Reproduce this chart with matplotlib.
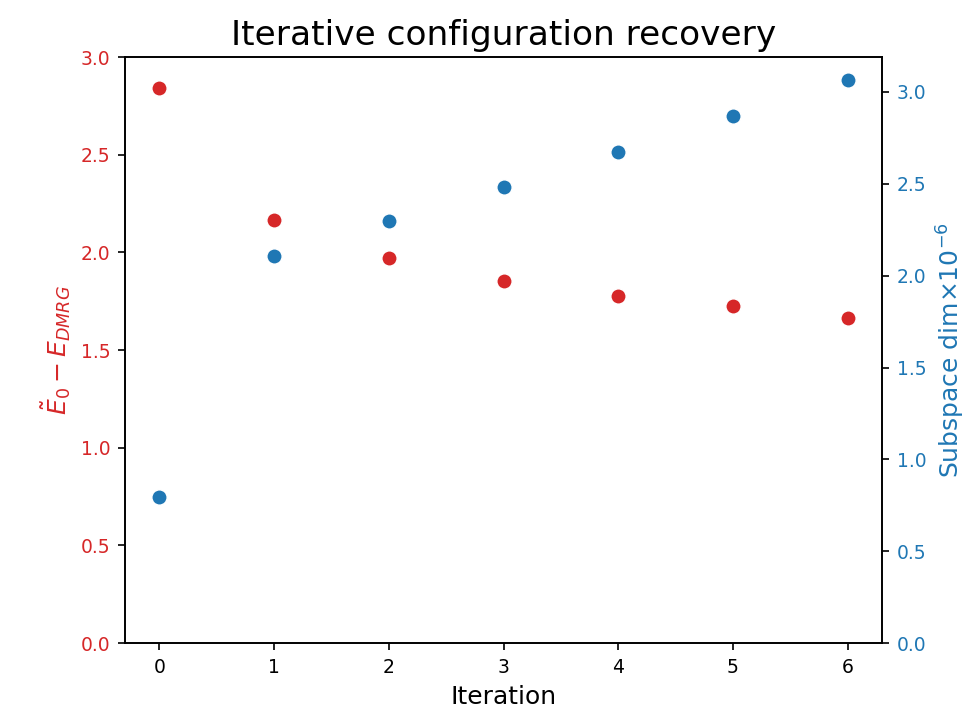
import matplotlib
matplotlib.use("Agg")
import matplotlib.pyplot as plt

# values
iterations = [0, 1, 2, 3, 4, 5, 6]
energy_gap = [2.84, 2.165, 1.97, 1.855, 1.775, 1.725, 1.665]
subspace_dim = [0.795, 2.105, 2.295, 2.485, 2.675, 2.87, 3.065]   # x1e-6

RED = "#d62728"
BLUE = "#1f77b4"

fig, ax = plt.subplots(figsize=(980 / 150, 713 / 150), dpi=150)
fig.subplots_adjust(left=0.1276, right=0.9, top=0.92, bottom=0.098)

ax.scatter(iterations, energy_gap, s=55, color=RED, edgecolor="white", linewidth=0.75, zorder=3)
ax.set_ylim(0, 3.0)
ax.set_xlim(-0.3, 6.3)
ax.set_ylabel(r"$\tilde{E}_0 - E_{DMRG}$", color=RED, fontsize=12)
ax.tick_params(axis="y", labelcolor=RED, labelsize=9)
ax.tick_params(axis="x", labelsize=9)
ax.set_xlabel("Iteration", fontsize=12)
ax.set_title("Iterative configuration recovery", fontsize=16.5)

ax2 = ax.twinx()
ax2.scatter(iterations, subspace_dim, s=55, color=BLUE, edgecolor="white", linewidth=0.75, zorder=3)
ax2.set_ylim(0, 3.19)
ax2.set_ylabel(r"Subspace dim$\times10^{-6}$", color=BLUE, fontsize=12)
ax2.tick_params(axis="y", labelcolor=BLUE, labelsize=9)

fig.savefig("out.png", dpi=150)
